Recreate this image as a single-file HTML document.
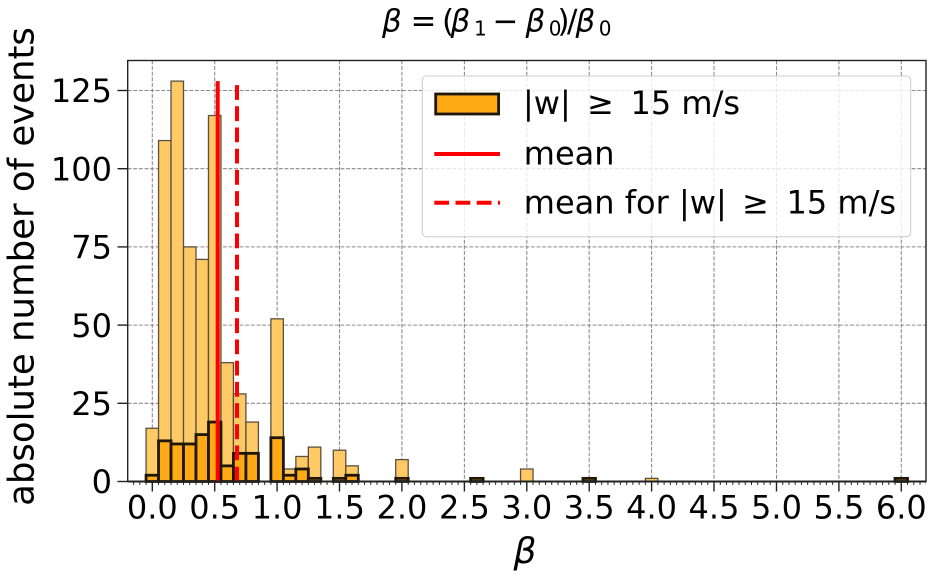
<!DOCTYPE html>
<html>
<head>
<meta charset="utf-8">
<style>
html,body{margin:0;padding:0;background:#fff;}
svg{display:block;}
text{font-family:"DejaVu Sans","Liberation Sans",sans-serif;fill:#000;}
</style>
</head>
<body>
<svg width="935" height="579" viewBox="0 0 935 579" xmlns="http://www.w3.org/2000/svg">
<rect width="935" height="579" fill="#fff"/>

<!-- grid -->
<g stroke="#8a8a8a" stroke-width="1.07" stroke-dasharray="3.9 1.7" fill="none">
<line x1="152.3" y1="60.5" x2="152.3" y2="481.5"/>
<line x1="214.7" y1="60.5" x2="214.7" y2="481.5"/>
<line x1="277.1" y1="60.5" x2="277.1" y2="481.5"/>
<line x1="339.5" y1="60.5" x2="339.5" y2="481.5"/>
<line x1="401.9" y1="60.5" x2="401.9" y2="481.5"/>
<line x1="464.4" y1="60.5" x2="464.4" y2="481.5"/>
<line x1="526.8" y1="60.5" x2="526.8" y2="481.5"/>
<line x1="589.2" y1="60.5" x2="589.2" y2="481.5"/>
<line x1="651.6" y1="60.5" x2="651.6" y2="481.5"/>
<line x1="714.0" y1="60.5" x2="714.0" y2="481.5"/>
<line x1="776.5" y1="60.5" x2="776.5" y2="481.5"/>
<line x1="838.9" y1="60.5" x2="838.9" y2="481.5"/>
<line x1="901.3" y1="60.5" x2="901.3" y2="481.5"/>
<line x1="127.7" y1="403.3" x2="926" y2="403.3"/>
<line x1="127.7" y1="325.1" x2="926" y2="325.1"/>
<line x1="127.7" y1="246.9" x2="926" y2="246.9"/>
<line x1="127.7" y1="168.7" x2="926" y2="168.7"/>
<line x1="127.7" y1="90.5" x2="926" y2="90.5"/>
</g>

<!-- light bars (all events) -->
<g fill="#FFC966" stroke="#5b5040" stroke-width="1.3">
<rect x="146.06" y="428.32" width="12.48" height="53.18"/>
<rect x="158.54" y="140.55" width="12.48" height="340.95"/>
<rect x="171.03" y="81.12" width="12.48" height="400.38"/>
<rect x="183.51" y="246.9" width="12.48" height="234.6"/>
<rect x="195.99" y="259.41" width="12.48" height="222.09"/>
<rect x="208.48" y="115.52" width="12.48" height="365.98"/>
<rect x="220.96" y="362.64" width="12.48" height="118.86"/>
<rect x="233.44" y="393.92" width="12.48" height="87.58"/>
<rect x="245.92" y="422.07" width="12.48" height="59.43"/>
<rect x="270.89" y="318.84" width="12.48" height="162.66"/>
<rect x="283.37" y="468.99" width="12.48" height="12.51"/>
<rect x="295.86" y="456.48" width="12.48" height="25.02"/>
<rect x="308.34" y="447.09" width="12.48" height="34.41"/>
<rect x="333.31" y="450.22" width="12.48" height="31.28"/>
<rect x="345.79" y="465.86" width="12.48" height="15.64"/>
<rect x="395.72" y="459.6" width="12.48" height="21.9"/>
<rect x="470.62" y="478.37" width="12.48" height="3.13"/>
<rect x="520.55" y="468.99" width="12.48" height="12.51"/>
<rect x="582.97" y="478.37" width="12.48" height="3.13"/>
<rect x="645.38" y="478.37" width="12.48" height="3.13"/>
<rect x="895.04" y="478.37" width="12.48" height="3.13"/>
</g>

<!-- dark bars (|w| >= 15 m/s) -->
<g fill="#FFAA14" stroke="#1e1608" stroke-width="2.8">
<rect x="146.06" y="475.24" width="12.48" height="6.26"/>
<rect x="158.54" y="440.84" width="12.48" height="40.66"/>
<rect x="171.03" y="443.96" width="12.48" height="37.54"/>
<rect x="183.51" y="443.96" width="12.48" height="37.54"/>
<rect x="195.99" y="434.58" width="12.48" height="46.92"/>
<rect x="208.48" y="422.07" width="12.48" height="59.43"/>
<rect x="220.96" y="465.86" width="12.48" height="15.64"/>
<rect x="233.44" y="453.35" width="12.48" height="28.15"/>
<rect x="245.92" y="453.35" width="12.48" height="28.15"/>
<rect x="270.89" y="437.71" width="12.48" height="43.79"/>
<rect x="283.37" y="475.24" width="12.48" height="6.26"/>
<rect x="295.86" y="468.99" width="12.48" height="12.51"/>
<rect x="308.34" y="478.37" width="12.48" height="3.13"/>
<rect x="333.31" y="478.37" width="12.48" height="3.13"/>
<rect x="345.79" y="475.24" width="12.48" height="6.26"/>
<rect x="395.72" y="478.37" width="12.48" height="3.13"/>
<rect x="470.62" y="478.37" width="12.48" height="3.13"/>
<rect x="582.97" y="478.37" width="12.48" height="3.13"/>
<rect x="895.04" y="478.37" width="12.48" height="3.13"/>
</g>

<!-- mean lines -->
<line x1="217.7" y1="481.5" x2="217.7" y2="81.1" stroke="#ff0000" stroke-width="4"/>
<line x1="237" y1="481.5" x2="237" y2="81.1" stroke="#ff0000" stroke-width="4" stroke-dasharray="14.8 6.4"/>

<!-- spines -->
<g stroke="#222" stroke-width="1.4" fill="none">
<rect x="127.7" y="60.5" width="798.3" height="421"/>
</g>
<line x1="127.7" y1="481.5" x2="926" y2="481.5" stroke="#222" stroke-width="2"/>

<!-- minor x ticks -->
<line x1="133.08" y1="483.2" x2="926" y2="483.2" stroke="#222" stroke-width="3.4" stroke-dasharray="1 5.2415"/>

<!-- major ticks -->
<g stroke="#222" stroke-width="1.4">
<line x1="152.3" y1="481.5" x2="152.3" y2="491.5"/>
<line x1="214.7" y1="481.5" x2="214.7" y2="491.5"/>
<line x1="277.1" y1="481.5" x2="277.1" y2="491.5"/>
<line x1="339.5" y1="481.5" x2="339.5" y2="491.5"/>
<line x1="401.9" y1="481.5" x2="401.9" y2="491.5"/>
<line x1="464.4" y1="481.5" x2="464.4" y2="491.5"/>
<line x1="526.8" y1="481.5" x2="526.8" y2="491.5"/>
<line x1="589.2" y1="481.5" x2="589.2" y2="491.5"/>
<line x1="651.6" y1="481.5" x2="651.6" y2="491.5"/>
<line x1="714.0" y1="481.5" x2="714.0" y2="491.5"/>
<line x1="776.5" y1="481.5" x2="776.5" y2="491.5"/>
<line x1="838.9" y1="481.5" x2="838.9" y2="491.5"/>
<line x1="901.3" y1="481.5" x2="901.3" y2="491.5"/>
<line x1="117.5" y1="481.5" x2="127.7" y2="481.5"/>
<line x1="117.5" y1="403.3" x2="127.7" y2="403.3"/>
<line x1="117.5" y1="325.1" x2="127.7" y2="325.1"/>
<line x1="117.5" y1="246.9" x2="127.7" y2="246.9"/>
<line x1="117.5" y1="168.7" x2="127.7" y2="168.7"/>
<line x1="117.5" y1="90.5" x2="127.7" y2="90.5"/>
</g>

<!-- x tick labels -->
<g font-size="32" text-anchor="middle">
<text x="152.3" y="518.5">0.0</text>
<text x="214.7" y="518.5">0.5</text>
<text x="277.1" y="518.5">1.0</text>
<text x="339.5" y="518.5">1.5</text>
<text x="401.9" y="518.5">2.0</text>
<text x="464.4" y="518.5">2.5</text>
<text x="526.8" y="518.5">3.0</text>
<text x="589.2" y="518.5">3.5</text>
<text x="651.6" y="518.5">4.0</text>
<text x="714.0" y="518.5">4.5</text>
<text x="776.5" y="518.5">5.0</text>
<text x="838.9" y="518.5">5.5</text>
<text x="901.3" y="518.5">6.0</text>
</g>

<!-- y tick labels -->
<g font-size="32" text-anchor="end">
<text x="112" y="493.2">0</text>
<text x="112" y="415">25</text>
<text x="112" y="336.8">50</text>
<text x="112" y="258.6">75</text>
<text x="112" y="180.4">100</text>
<text x="112" y="102.2">125</text>
</g>

<!-- axis labels -->
<text x="525" y="563" font-size="36" font-style="italic" text-anchor="middle">β</text>
<text transform="translate(33.5,266.5) rotate(-90)" font-size="35.5" text-anchor="middle">absolute number of events</text>

<!-- title -->
<g font-size="31">
<text x="382" y="31.5" font-style="italic">β</text>
<text x="410.5" y="31.5">=</text>
<text x="442" y="31.5">(</text>
<text x="450.5" y="31.5" font-style="italic">β</text>
<text x="474" y="35.5" font-size="20">1</text>
<text x="492.5" y="31.5">−</text>
<text x="525.5" y="31.5" font-style="italic">β</text>
<text x="548.7" y="35.5" font-size="20">0</text>
<text x="557.5" y="31.5">)</text>
<text x="567" y="31.5">/</text>
<text x="575.5" y="31.5" font-style="italic">β</text>
<text x="598.7" y="35.5" font-size="20">0</text>
</g>

<!-- legend -->
<rect x="422.3" y="76" width="488.4" height="160.7" rx="4" ry="4" fill="#fff" fill-opacity="0.8" stroke="#cccccc" stroke-width="1"/>
<rect x="435.7" y="94" width="62.9" height="20" fill="#FFAA14" stroke="#1e1608" stroke-width="2.8"/>
<line x1="434.3" y1="154" x2="500" y2="154" stroke="#ff0000" stroke-width="4"/>
<line x1="434.3" y1="202.7" x2="500" y2="202.7" stroke="#ff0000" stroke-width="4" stroke-dasharray="14.8 6.4"/>
<g font-size="32">
<text x="523" y="114">|w|</text>
<text x="587" y="114">≥</text>
<text x="630.5" y="114">15 m/s</text>
<text x="523.8" y="164.5">mean</text>
<text x="523.8" y="213.5">mean for</text>
<text x="679" y="213.5">|w|</text>
<text x="742" y="213.5">≥</text>
<text x="786.5" y="213.5">15 m/s</text>
</g>
</svg>
</body>
</html>
